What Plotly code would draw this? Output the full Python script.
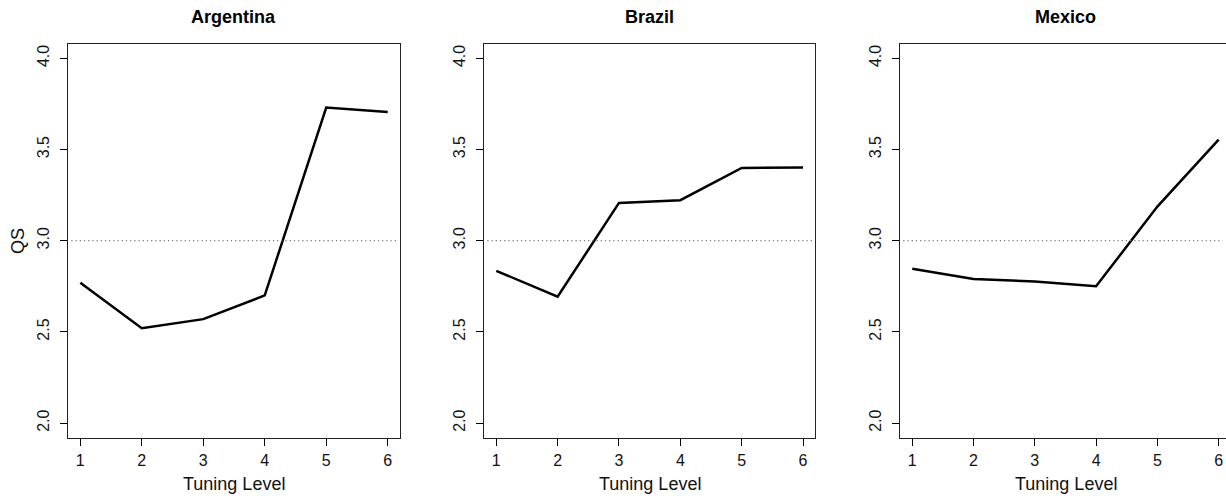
import plotly.graph_objects as go

countries = ["Argentina", "Brazil", "Mexico"]
tuning_levels = [1, 2, 3, 4, 5, 6]
qs_argentina = [2.77, 2.52, 2.57, 2.70, 3.73, 3.705]
qs_brazil = [2.835, 2.693, 3.207, 3.222, 3.399, 3.401]
qs_mexico = [2.846, 2.79, 2.777, 2.75, 3.187, 3.554]
y_ticks = [2.0, 2.5, 3.0, 3.5, 4.0]
reference_qs = 3.0

series = [qs_argentina, qs_brazil, qs_mexico]

W, H = 1226, 496
px_domains = [(68, 400), (484, 815.3), (900, 1226)]
x_ranges = [[0.8, 6.2], [0.8, 6.2], [0.8, 6.12]]
ytop, ybot = 43.7, 437.7
ydom = [1 - ybot / H, 1 - ytop / H]

FONT = "Liberation Sans, Arial, Helvetica, sans-serif"

fig = go.Figure()
layout = dict(
    width=W, height=H,
    margin=dict(l=0, r=0, t=0, b=0),
    paper_bgcolor="white", plot_bgcolor="white",
    showlegend=False,
    font=dict(family=FONT, color="black"),
)

annotations = []
shapes = []
for i, (name, vals) in enumerate(zip(countries, series)):
    sfx = "" if i == 0 else str(i + 1)
    xa, ya = "x" + sfx, "y" + sfx
    fig.add_trace(go.Scatter(
        x=tuning_levels, y=vals, mode="lines",
        line=dict(color="black", width=2.5),
        xaxis=xa, yaxis=ya, hoverinfo="x+y",
    ))
    d0, d1 = px_domains[i]
    layout["xaxis" + sfx] = dict(
        domain=[d0 / W, d1 / W], range=x_ranges[i],
        tickmode="array", tickvals=tuning_levels,
        ticks="outside", ticklen=7, tickwidth=1, tickcolor="black",
        showline=True, mirror=True, linecolor="#222", linewidth=1.3,
        showgrid=False, zeroline=False,
        tickfont=dict(size=16, family=FONT, color="#111"),
        ticklabelstandoff=1,
        anchor=ya,
    )
    layout["yaxis" + sfx] = dict(
        domain=ydom, range=[1.92, 4.08],
        tickmode="array", tickvals=y_ticks,
        ticktext=[f"{v:.1f}" for v in y_ticks],
        tickangle=-90,
        ticks="outside", ticklen=7, tickwidth=1, tickcolor="black",
        showline=True, mirror=(i < 2), linecolor="#222", linewidth=1.3,
        showgrid=False, zeroline=False,
        tickfont=dict(size=16, family=FONT, color="#111"),
        ticklabelstandoff=4,
        anchor=xa,
    )
    # horizontal reference line
    shapes.append(dict(
        type="line", xref=xa + " domain", yref=ya,
        x0=0.01, x1=0.99, y0=reference_qs, y1=reference_qs,
        line=dict(color="#777", width=1.2, dash="1.2px,3px"),
    ))
    cx = ((d0 + d1) / 2) / W if i < 2 else ((d0 + 1231) / 2) / W
    annotations.append(dict(
        text=f"<b>{name}</b>", x=cx, y=1 - 17 / H,
        xref="paper", yref="paper", showarrow=False,
        xanchor="center", yanchor="middle",
        font=dict(size=18, family=FONT, color="black"),
    ))
    annotations.append(dict(
        text="Tuning Level", x=cx, y=1 - 484 / H,
        xref="paper", yref="paper", showarrow=False,
        xanchor="center", yanchor="middle",
        font=dict(size=18, family=FONT, color="#111"),
    ))

annotations.append(dict(
    text="QS", x=18 / W, y=1 - 241 / H,
    xref="paper", yref="paper", showarrow=False, textangle=-90,
    xanchor="center", yanchor="middle",
    font=dict(size=18, family=FONT, color="#111"),
))

layout["annotations"] = annotations
layout["shapes"] = shapes
fig.update_layout(**layout)
fig.write_html("out.html")
